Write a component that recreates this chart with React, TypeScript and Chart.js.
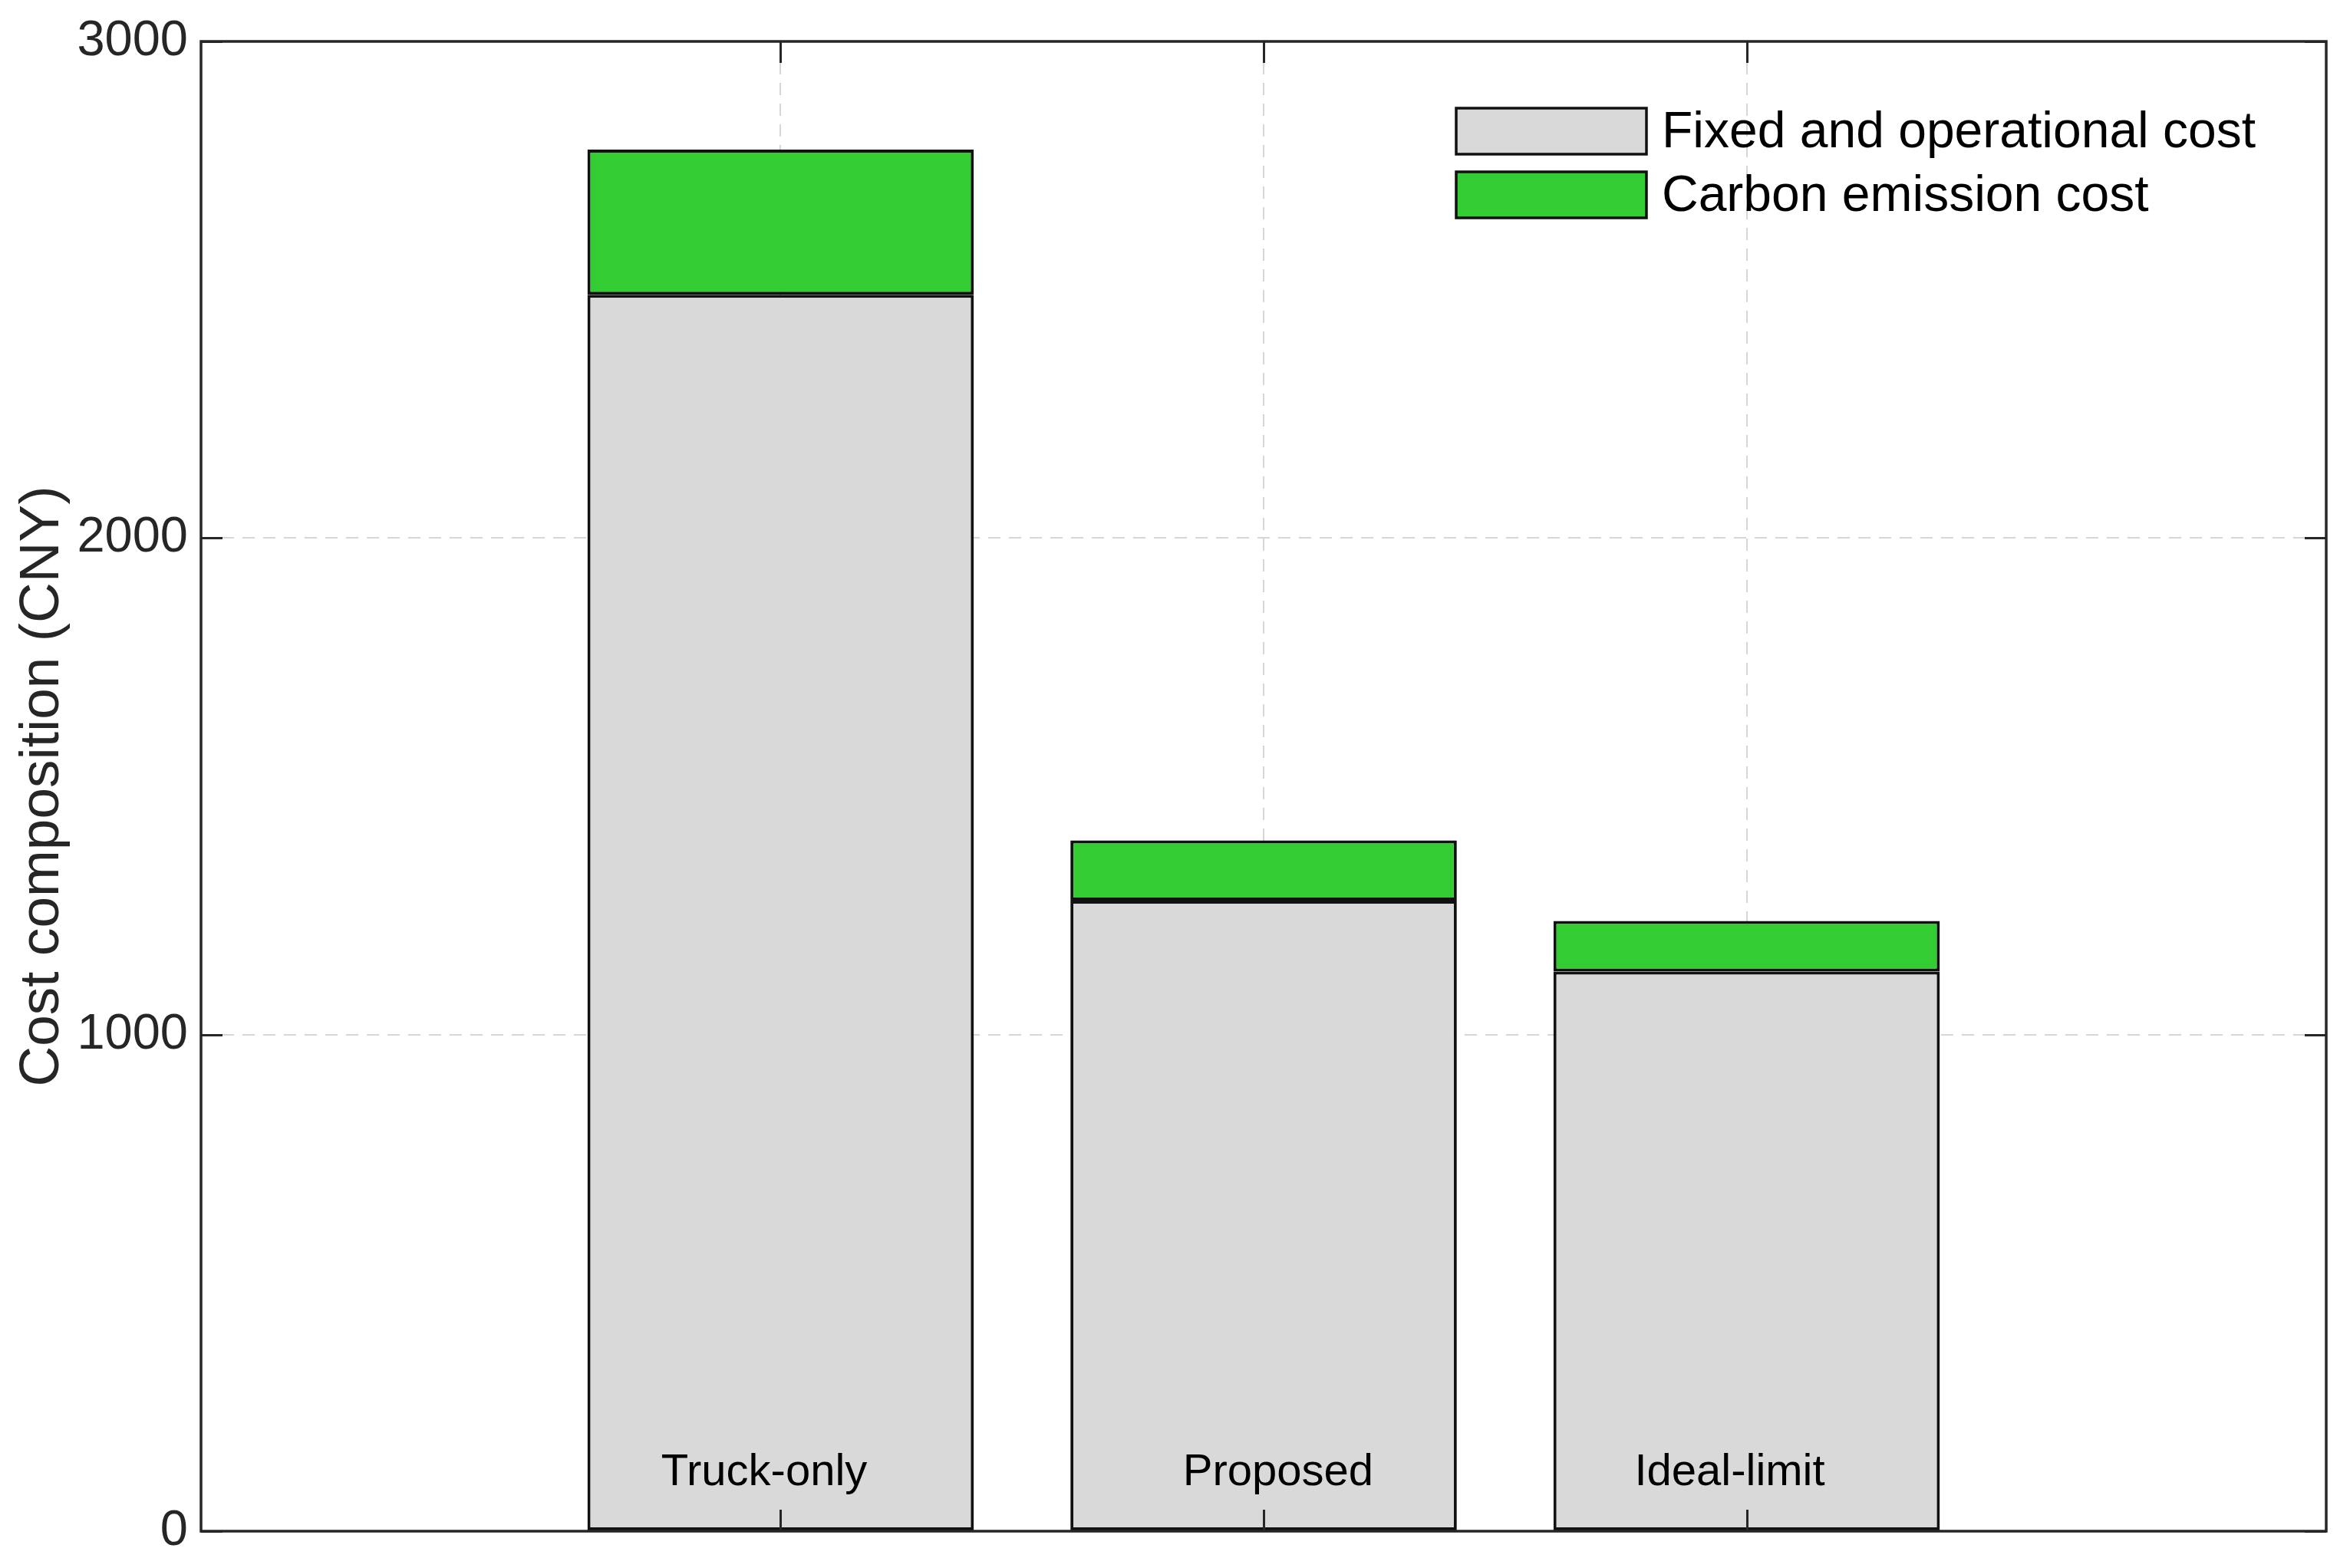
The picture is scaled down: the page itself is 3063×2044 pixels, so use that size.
import React, { useEffect, useRef } from 'react';
import { Chart, registerables } from 'chart.js';

Chart.register(...registerables);

// ---- data ----
const categories = ['Truck-only', 'Proposed', 'Ideal-limit'];
const categoryX = [1, 2, 3];
const fixedCost = [2490, 1270, 1127];
const carbonCost = [292, 121, 102];
const seriesNames = ['Fixed and operational cost', 'Carbon emission cost'];
const yTicks = [0, 1000, 2000, 3000];
const labelAnchors = [0.966, 2.03, 2.965];
const yTitle = 'Cost composition (CNY)';

const FONT = '"Liberation Sans", Arial, Helvetica, sans-serif';
const AXIS_COLOR = '#262626';

const framePlugin = {
  id: 'matlabFrame',
  afterDatasetsDraw(chart: any) {
    const { ctx, chartArea: a, scales } = chart;
    const xs = scales.x;
    const ys = scales.y;
    ctx.save();
    // category labels inside bars
    ctx.fillStyle = '#000';
    ctx.font = `58px ${FONT}`;
    ctx.textAlign = 'center';
    ctx.textBaseline = 'alphabetic';
    const base = ys.getPixelForValue(0);
    categories.forEach((c, i) => {
      ctx.fillText(c, xs.getPixelForValue(labelAnchors[i]), base - 60);
    });
    // inward tick marks
    const tl = 28;
    ctx.strokeStyle = AXIS_COLOR;
    ctx.lineWidth = 3;
    ctx.beginPath();
    categoryX.forEach((v) => {
      const px = Math.round(xs.getPixelForValue(v)) + 0.5;
      ctx.moveTo(px, a.bottom);
      ctx.lineTo(px, a.bottom - tl);
      ctx.moveTo(px, a.top);
      ctx.lineTo(px, a.top + tl);
    });
    yTicks.forEach((v) => {
      const py = Math.round(ys.getPixelForValue(v)) + 0.5;
      ctx.moveTo(a.left, py);
      ctx.lineTo(a.left + tl, py);
      ctx.moveTo(a.right, py);
      ctx.lineTo(a.right - tl, py);
    });
    ctx.stroke();
    // box
    ctx.lineWidth = 3.5;
    ctx.strokeRect(a.left, a.top, a.right - a.left, a.bottom - a.top);
    // legend
    const ds = chart.data.datasets;
    const bx = 1898;
    const bw = 248;
    const bh = 60;
    const rows = [141, 224];
    ctx.font = `66px ${FONT}`;
    ctx.textAlign = 'left';
    ctx.textBaseline = 'middle';
    ds.forEach((d: any, i: number) => {
      const by = rows[i];
      ctx.fillStyle = d.backgroundColor;
      ctx.fillRect(bx, by, bw, bh);
      ctx.strokeStyle = '#111';
      ctx.lineWidth = 3.5;
      ctx.strokeRect(bx, by, bw, bh);
      ctx.fillStyle = '#000';
      ctx.fillText(d.label, bx + bw + 20, by + bh / 2 + 3);
    });
    ctx.restore();
  },
};

export default function App() {
  const ref = useRef<HTMLCanvasElement | null>(null);

  useEffect(() => {
    document.body.style.margin = '0';
    const canvas = ref.current;
    if (!canvas) return;
    const chart = new Chart(canvas, {
      type: 'bar',
      data: {
        datasets: [
          {
            label: seriesNames[0],
            data: categoryX.map((x, i) => ({ x, y: fixedCost[i] })),
            backgroundColor: '#d9d9d9',
            borderColor: '#111',
            borderWidth: 4,
            borderSkipped: false,
            categoryPercentage: 0.8,
            barPercentage: 1,
          },
          {
            label: seriesNames[1],
            data: categoryX.map((x, i) => ({ x, y: carbonCost[i] })),
            backgroundColor: '#33cc33',
            borderColor: '#111',
            borderWidth: 4,
            borderSkipped: false,
            categoryPercentage: 0.8,
            barPercentage: 1,
          },
        ],
      } as any,
      options: {
        responsive: false,
        maintainAspectRatio: false,
        devicePixelRatio: 1,
        animation: false,
        layout: { padding: { top: 54, right: 31, bottom: 48, left: 0 } },
        plugins: {
          legend: { display: false },
          tooltip: { enabled: false },
        },
        scales: {
          x: {
            type: 'linear',
            stacked: true,
            min: -0.2,
            max: 4.2,
            offset: false,
            afterBuildTicks: (s: any) => {
              s.ticks = categoryX.map((v) => ({ value: v }));
            },
            afterFit: (s: any) => {
              s.height = 0;
            },
            ticks: { display: false },
            grid: {
              offset: false,
              drawTicks: false,
              tickLength: 0,
              color: '#d6d6d6',
              lineWidth: 2,
            },
            border: { display: false, dash: [16, 11] },
          },
          y: {
            type: 'linear',
            stacked: true,
            min: 0,
            max: 3000,
            afterBuildTicks: (s: any) => {
              s.ticks = yTicks.map((v) => ({ value: v }));
            },
            afterFit: (s: any) => {
              s.width = 262;
              s.paddingTop = 0;
              s.paddingBottom = 0;
            },
            ticks: {
              padding: 17,
              color: AXIS_COLOR,
              font: { size: 65, family: FONT, lineHeight: 0.8 },
              callback: (v: any) => String(v),
            },
            grid: {
              drawTicks: false,
              tickLength: 0,
              color: '#d6d6d6',
              lineWidth: 2,
            },
            border: { display: false, dash: [16, 11] },
            title: {
              display: true,
              text: yTitle,
              color: AXIS_COLOR,
              font: { size: 73, family: FONT },
              padding: { top: 12, bottom: 0 },
            },
          },
        },
      } as any,
      plugins: [framePlugin],
    });
    return () => chart.destroy();
  }, []);

  return (
    <div style={{ position: 'absolute', left: 0, top: 0, width: 3063, height: 2044, background: '#fff' }}>
      <canvas ref={ref} width={3063} height={2044} style={{ display: 'block', width: 3063, height: 2044 }} />
    </div>
  );
}
